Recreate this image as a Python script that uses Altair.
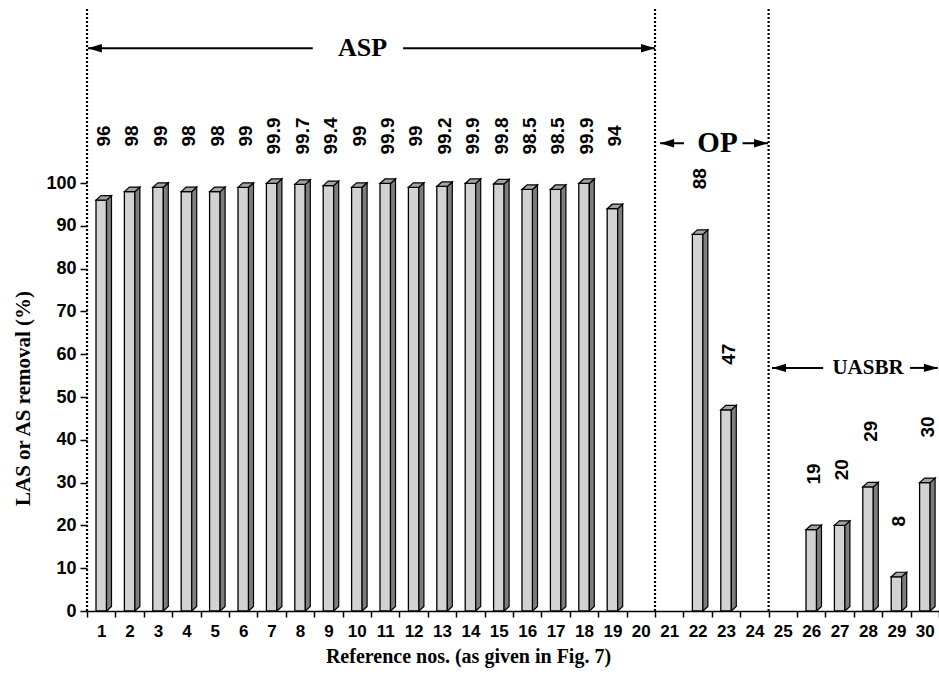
import altair as alt
import pandas as pd

# ---------------- data ----------------
refs = list(range(1, 31))
removal = [96, 98, 99, 98, 98, 99, 99.9, 99.7, 99.4, 99, 99.9, 99, 99.2, 99.9, 99.8,
           98.5, 98.5, 99.9, 94, None, None, 88, 47, None, None, 19, 20, 29, 8, 30]
groups = ["ASP"] * 20 + ["OP"] * 4 + ["UASBR"] * 6
group_names = ["ASP", "OP", "UASBR"]
y_ticks = list(range(0, 101, 10))

# ---------------- geometry (px) ----------------
W, H = 852, 603
YMAX = 140.9
STEP = W / 30.0
YPX = H / YMAX
front_left = 9.0 / STEP
front_w = 10.5 / STEP
side_w = 5.0 / STEP
rise = 4.5 / YPX

bars, side, top = [], [], []
for r, v, g in zip(refs, removal, groups):
    if v is None:
        continue
    xl = r - 1 + front_left
    xr = xl + front_w
    ly = 111.0 if g == "ASP" else v + 13.0
    bars.append(dict(ref=r, x=xl, x2=xr, y=0, y2=v, label=f"{v:g}",
                     lx=r - 1 + 17.0 / STEP, ly=ly))
    side += [dict(ref=r, x=xr, y=0, y2=v), dict(ref=r, x=xr + side_w, y=rise, y2=v + rise)]
    top += [dict(ref=r, x=xl, y=v, y2=v), dict(ref=r, x=xl + side_w, y=v, y2=v + rise),
            dict(ref=r, x=xr, y=v, y2=v + rise), dict(ref=r, x=xr + side_w, y=v + rise, y2=v + rise)]

bars_df = pd.DataFrame(bars)
side_df = pd.DataFrame(side)
top_df = pd.DataFrame(top)

dots_df = pd.DataFrame({"x": [0, 20, 24], "y": [0, 0, 0], "y2": [YMAX, YMAX, YMAX]})

# annotation arrows (in data units)
seg_df = pd.DataFrame([
    dict(x=0.03, x2=7.95, y=131.5), dict(x=11.13, x2=20.0, y=131.5),
    dict(x=20.18, x2=21.02, y=109.3), dict(x=23.08, x2=23.98, y=109.3),
    dict(x=24.12, x2=25.92, y=56.8), dict(x=28.98, x2=29.96, y=56.8),
])
left_tips = pd.DataFrame(dict(x=[0.03, 20.18, 24.12], y=[131.5, 109.3, 56.8]))
right_tips = pd.DataFrame(dict(x=[20.0, 23.98, 29.96], y=[131.5, 109.3, 56.8]))
ann_df = pd.DataFrame(dict(text=group_names, x=[9.7, 22.2, 27.5], y=[131.5, 109.3, 56.8],
                           size=[26, 29, 21]))

# ---------------- encodings ----------------
xs = alt.Scale(domain=[0, 30], nice=False, zero=False)
ys = alt.Scale(domain=[0, YMAX], nice=False)
xaxis = alt.Axis(
    values=list(range(0, 31)), title="Reference nos. (as given in Fig. 7)",
    labelExpr="datum.value < 30 ? datum.value + 1 : ''", labelOffset=STEP / 2,
    labelFont="Liberation Sans", labelFontWeight="bold", labelFontSize=17, labelColor="black",
    labelPadding=6, labelFlush=False, labelOverlap=False,
    tickSize=6, tickWidth=1.5, tickColor="black", domainColor="black", domainWidth=1.5,
    grid=False, titleFont="Liberation Serif", titleFontWeight="bold", titleFontSize=20,
    titleColor="black", titleX=381, titleY=45, titleAlign="center", titleBaseline="middle",
    titleAnchor="start")
yaxis = alt.Axis(
    values=y_ticks, title="LAS or AS removal (%)", domain=False, grid=False,
    labelFont="Liberation Sans", labelFontWeight="bold", labelFontSize=18, labelColor="black",
    labelPadding=4, tickSize=7, tickWidth=1.5, tickColor="black",
    titleFont="Liberation Serif", titleFontWeight="bold", titleFontSize=21, titleColor="black",
    titleX=-64, titleY=390, titleAlign="center", titleBaseline="middle", titleAnchor="start")

X = alt.X("x:Q", scale=xs, axis=xaxis)
Y = alt.Y("y:Q", scale=ys, axis=yaxis)

dots = alt.Chart(dots_df).mark_rule(color="black", strokeWidth=2.2, strokeDash=[2, 2]).encode(
    x=X, y=Y, y2="y2:Q")

front = alt.Chart(bars_df).mark_rect(fill="#d2d2d2", stroke="black", strokeWidth=1.3).encode(
    x=X, x2="x2:Q", y=Y, y2="y2:Q")

sides = alt.Chart(side_df).mark_area(fill="#7d7d7d", stroke="black", strokeWidth=1.2,
                                     interpolate="linear").encode(
    x=X, y=Y, y2="y2:Q", detail="ref:N")

tops = alt.Chart(top_df).mark_area(fill="#a3a3a3", stroke="black", strokeWidth=1.2,
                                   interpolate="linear").encode(
    x=X, y=Y, y2="y2:Q", detail="ref:N")

labels = alt.Chart(bars_df).mark_text(angle=270, font="Liberation Sans", fontWeight="bold",
                                      fontSize=19, align="center", baseline="middle",
                                      color="black").encode(
    x=alt.X("lx:Q", scale=xs, axis=xaxis), y=alt.Y("ly:Q", scale=ys, axis=yaxis), text="label:N")

segs = alt.Chart(seg_df).mark_rule(color="black", strokeWidth=2).encode(x=X, x2="x2:Q", y=Y)

lt = alt.Chart(left_tips).mark_point(shape="M0,0 L2,-0.6 L2,0.6 Z", size=196, filled=True,
                                     color="black", opacity=1, strokeWidth=0).encode(x=X, y=Y)
rt = alt.Chart(right_tips).mark_point(shape="M0,0 L-2,-0.6 L-2,0.6 Z", size=196, filled=True,
                                      color="black", opacity=1, strokeWidth=0).encode(x=X, y=Y)

ann = alt.Chart(ann_df).mark_text(font="Liberation Serif", fontWeight="bold", align="center",
                                  baseline="middle", color="black").encode(
    x=X, y=Y, text="text:N", size=alt.Size("size:Q", scale=None, legend=None))

chart = alt.layer(dots, front, sides, tops, labels, segs, lt, rt, ann).properties(
    width=W, height=H, autosize="none",
    padding={"left": 87, "top": 8, "right": 0, "bottom": 57},
    background="white",
).configure_view(stroke=None)

chart.save("out.html", embed_options={"renderer": "svg", "actions": False})
